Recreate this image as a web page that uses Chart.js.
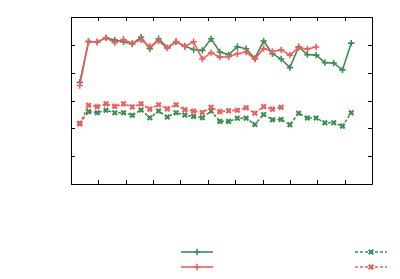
<!DOCTYPE html>
<html>
<head>
<meta charset="utf-8">
<script src="https://cdn.jsdelivr.net/npm/chart.js@4"></script>
<style>
  html, body { margin: 0; padding: 0; background: #fff; }
  #wrap { width: 400px; height: 279px; }
</style>
</head>
<body>
<div id="wrap"><canvas id="chart" width="400" height="279"></canvas></div>
<script>
// x positions of the samples
const xValues = [32, 64, 96, 128, 160, 192, 224, 256, 288, 320, 352, 384, 416, 448, 480, 512,
    544, 576, 608, 640, 672, 704, 736, 768, 800, 832, 864, 896, 928, 960, 992, 1024];
const xTicks = [0, 100, 200, 300, 400, 500, 600, 700, 800, 900, 1000, 1100];
const yTicks = [0, 10, 20, 30, 40, 50, 60];

const greenSolid = [36.5, 51.2, 51.0, 52.5, 51.7, 51.0, 50.3, 52.8, 48.6, 52.2, 49.0, 51.1, 49.5, 48.3, 48.0, 52.2,
    47.4, 46.5, 49.3, 48.6, 45.1, 51.4, 46.8, 44.9, 41.8, 49.3, 46.5, 46.3, 43.6, 43.5, 41.0, 50.6];
const redSolid = [35.4, 51.2, 51.0, 52.5, 50.8, 51.9, 50.6, 51.8, 49.4, 51.4, 48.8, 51.2, 49.4, 51.1, 44.9, 47.2,
    45.6, 45.7, 46.8, 47.4, 44.9, 48.7, 47.6, 48.2, 46.3, 49.0, 48.5, 49.2];
const greenDashed = [21.8, 26.0, 25.6, 26.5, 25.6, 25.6, 24.7, 26.6, 23.8, 26.2, 24.1, 25.6, 24.8, 24.3, 23.8, 26.2,
    22.5, 22.5, 23.6, 23.6, 21.4, 25.0, 23.1, 23.2, 21.3, 25.4, 23.7, 23.7, 22.0, 22.0, 20.8, 25.6];
const redDashed = [21.6, 28.3, 27.8, 28.8, 27.9, 28.8, 27.7, 28.8, 26.9, 28.5, 27.0, 28.5, 26.7, 26.2, 25.7, 27.6,
    26.0, 26.3, 26.5, 27.4, 25.4, 27.8, 26.9, 27.6];

const GREEN = "#3b8f53";
const RED = "#f25c5c";

function pts(ys) {
    return ys.map((y, i) => ({ x: xValues[i], y: y }));
}

function series(ys, color, dashed) {
    return {
        data: pts(ys),
        borderColor: color,
        backgroundColor: color,
        borderWidth: 1.6,
        borderDash: dashed ? [3, 2] : [],
        pointStyle: dashed ? "crossRot" : "cross",
        pointRadius: 3.2,
        pointBorderWidth: dashed ? 2.2 : 1.6,
        pointHoverRadius: 3.2,
        tension: 0,
        fill: false,
    };
}

// frame, inward ticks and the legend samples
const framePlugin = {
    id: "frame",
    afterDraw(chart) {
        const ctx = chart.ctx;
        const a = chart.chartArea;
        const xs = chart.scales.x, ys = chart.scales.y;
        ctx.save();
        ctx.strokeStyle = "#000";
        ctx.lineWidth = 1;
        ctx.setLineDash([]);
        ctx.beginPath();
        ctx.rect(Math.round(a.left) + 0.5, Math.round(a.top) + 0.5,
            Math.round(a.right - a.left), Math.round(a.bottom - a.top));
        ctx.stroke();
        ctx.beginPath();
        xTicks.forEach((v) => {
            const px = Math.round(xs.getPixelForValue(v)) + 0.5;
            ctx.moveTo(px, a.bottom); ctx.lineTo(px, a.bottom - 4);
            ctx.moveTo(px, a.top); ctx.lineTo(px, a.top + 4);
        });
        yTicks.forEach((v) => {
            const py = Math.round(ys.getPixelForValue(v)) + 0.5;
            ctx.moveTo(a.left, py); ctx.lineTo(a.left + 4, py);
            ctx.moveTo(a.right, py); ctx.lineTo(a.right - 4, py);
        });
        ctx.stroke();

        const legend = [
            { x0: 181, x1: 213, y: 252, ds: chart.data.datasets[3] },
            { x0: 181, x1: 213, y: 267, ds: chart.data.datasets[1] },
            { x0: 355, x1: 387, y: 252, ds: chart.data.datasets[2] },
            { x0: 355, x1: 387, y: 267, ds: chart.data.datasets[0] },
        ];
        legend.forEach((l) => {
            ctx.strokeStyle = l.ds.borderColor;
            ctx.lineWidth = l.ds.borderWidth;
            ctx.setLineDash(l.ds.borderDash);
            ctx.beginPath();
            ctx.moveTo(l.x0, l.y); ctx.lineTo(l.x1, l.y);
            ctx.stroke();
            ctx.setLineDash([]);
            ctx.lineWidth = l.ds.pointBorderWidth;
            Chart.helpers.drawPoint(ctx, {
                pointStyle: l.ds.pointStyle, radius: l.ds.pointRadius, rotation: 0,
                borderWidth: l.ds.pointBorderWidth
            }, (l.x0 + l.x1) / 2, l.y);
        });
        ctx.restore();
    },
};

new Chart(document.getElementById("chart").getContext("2d"), {
    type: "line",
    data: {
        datasets: [
            series(redDashed, RED, true),
            series(redSolid, RED, false),
            series(greenDashed, GREEN, true),
            series(greenSolid, GREEN, false),
        ],
    },
    options: {
        responsive: false,
        animation: false,
        layout: { padding: { left: 71, top: 17, right: 28, bottom: 95 } },
        plugins: { legend: { display: false }, tooltip: { enabled: false } },
        scales: {
            x: { type: "linear", min: 0, max: 1100, display: false },
            y: { type: "linear", min: 0, max: 60, display: false },
        },
    },
    plugins: [framePlugin],
});
</script>
</body>
</html>
